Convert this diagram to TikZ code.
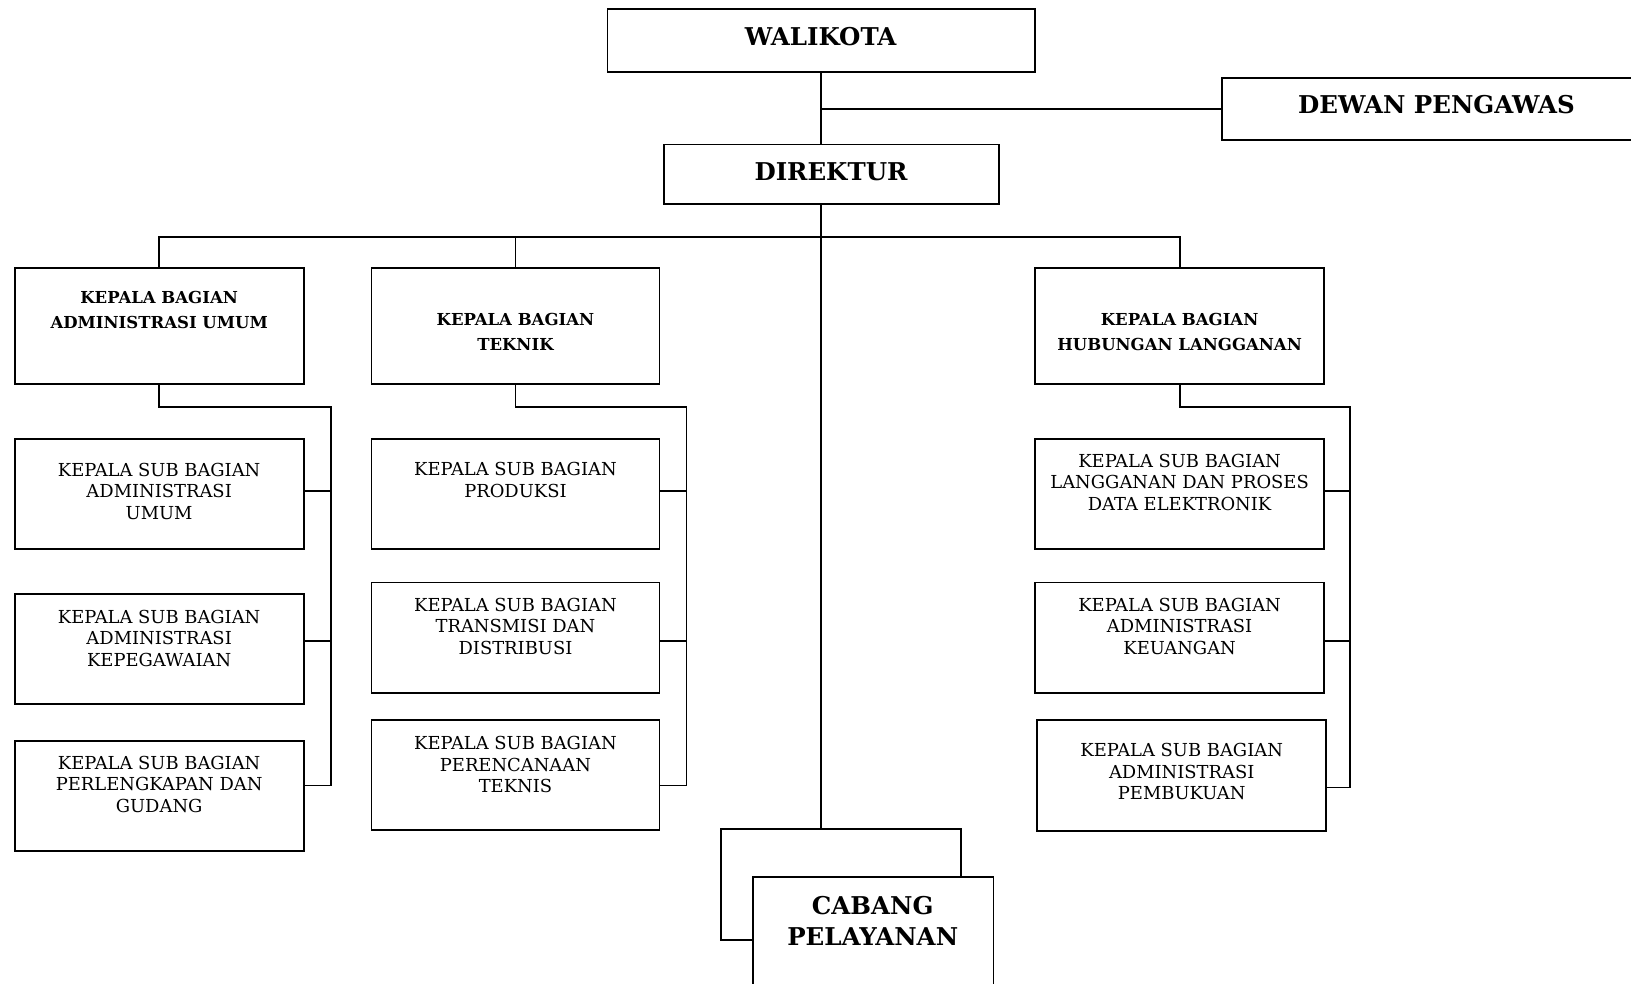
\documentclass[tikz,border=0pt]{standalone}
\usepackage{fontspec}
\setmainfont{DejaVu Serif}
\begin{document}
\begin{tikzpicture}[x=1pt,y=-1pt,
  box/.style={draw,line width=1.8pt,rectangle,inner sep=0pt,fill=white},
  wire/.style={line width=1.8pt},
  bigtxt/.style={font=\fontsize{24.5}{31}\selectfont\bfseries,align=center,inner sep=0pt},
  kbtxt/.style={font=\fontsize{16.5}{25}\selectfont\bfseries,align=center,inner sep=0pt},
  subtxt/.style={font=\fontsize{17.9}{21.5}\selectfont,align=center,inner sep=0pt}]
\useasboundingbox (0,0) rectangle (1631,984);
\begin{scope}
\clip (0,0) rectangle (1631,984);
% top
\node[box,minimum width=427.5pt,minimum height=62.4pt] (wal) at (821.25,40.6) {};
\node[bigtxt] (walt) at (820.7,36.4) {WALIKOTA};
\node[box,minimum width=437.8pt,minimum height=62.4pt] (dew) at (1441.1,109.2) {};
\node[bigtxt] (dewt) at (1436.5,105) {DEWAN PENGAWAS};
\node[box,minimum width=335pt,minimum height=59.3pt] (dir) at (831.1,174.25) {};
\node[bigtxt] (dirt) at (831,171.6) {DIREKTUR};
% kepala bagian
\node[box,minimum width=289.1pt,minimum height=115.4pt] (kba) at (159.15,326.1) {};
\node[kbtxt] (kbat) at (159.15,310) {KEPALA BAGIAN\\ADMINISTRASI UMUM};
\node[box,minimum width=288.1pt,minimum height=115.4pt] (kbt) at (515.45,326.1) {};
\node[kbtxt] (kbtt) at (515.45,331.8) {KEPALA BAGIAN\\TEKNIK};
\node[box,minimum width=289.2pt,minimum height=115.4pt] (kbh) at (1179.6,326.1) {};
\node[kbtxt] (kbht) at (1179.6,331.8) {KEPALA BAGIAN\\HUBUNGAN LANGGANAN};
% sub admin
\node[box,minimum width=289.1pt,minimum height=110.2pt] (sa1) at (159.15,494.1) {};
\node[subtxt] (sa1t) at (159.15,491) {KEPALA SUB BAGIAN\\ADMINISTRASI\\UMUM};
\node[box,minimum width=289.1pt,minimum height=110.2pt] (sa2) at (159.15,649.1) {};
\node[subtxt] (sa2t) at (159.15,638) {KEPALA SUB BAGIAN\\ADMINISTRASI\\KEPEGAWAIAN};
\node[box,minimum width=289.1pt,minimum height=110.2pt] (sa3) at (159.15,795.75) {};
\node[subtxt] (sa3t) at (159.15,784.3) {KEPALA SUB BAGIAN\\PERLENGKAPAN DAN\\GUDANG};
% sub teknik
\node[box,minimum width=288.1pt,minimum height=110.2pt] (st1) at (515.45,494.1) {};
\node[subtxt] (st1t) at (515.45,480) {KEPALA SUB BAGIAN\\PRODUKSI};
\node[box,minimum width=288.1pt,minimum height=110.2pt] (st2) at (515.45,637.65) {};
\node[subtxt] (st2t) at (515.45,626.2) {KEPALA SUB BAGIAN\\TRANSMISI DAN\\DISTRIBUSI};
\node[box,minimum width=288.1pt,minimum height=110.2pt] (st3) at (515.45,774.95) {};
\node[subtxt] (st3t) at (515.45,764.5) {KEPALA SUB BAGIAN\\PERENCANAAN\\TEKNIS};
% sub hubungan
\node[box,minimum width=289.2pt,minimum height=110.2pt] (sh1) at (1179.6,494.1) {};
\node[subtxt] (sh1t) at (1179.6,482.1) {KEPALA SUB BAGIAN\\LANGGANAN DAN PROSES\\DATA ELEKTRONIK};
\node[box,minimum width=289.2pt,minimum height=110.2pt] (sh2) at (1179.6,637.65) {};
\node[subtxt] (sh2t) at (1179.6,626.2) {KEPALA SUB BAGIAN\\ADMINISTRASI\\KEUANGAN};
\node[box,minimum width=289.2pt,minimum height=111.3pt] (sh3) at (1181.7,775.45) {};
\node[subtxt] (sh3t) at (1181.7,771.8) {KEPALA SUB BAGIAN\\ADMINISTRASI\\PEMBUKUAN};
% connectors top
\draw[wire] (wal.south) -- (wal.south |- dir.north);
\draw[wire] (wal.south |- dew.west) -- (dew.west);
\coordinate (bus) at (0,237.2);
\draw[wire] (kba.north) -- (kba.north |- bus) -- (kbh.north |- bus) -- (kbh.north);
\draw[wire] (kbt.north) -- (kbt.north |- bus);
% admin group
\coordinate (ra) at (330.8,406.7);
\coordinate (la1) at (330.8,491);
\coordinate (la2) at (330.8,640.8);
\coordinate (la3) at (330.8,785.4);
\draw[wire] (kba.south) -- (kba.south |- ra) -- (ra) -- (la3) -- (la3 -| sa3.east);
\draw[wire] (la1) -- (la1 -| sa1.east);
\draw[wire] (la2) -- (la2 -| sa2.east);
% teknik group
\coordinate (rt) at (686.5,406.7);
\coordinate (lt1) at (686.5,491);
\coordinate (lt2) at (686.5,640.8);
\coordinate (lt3) at (686.5,785.4);
\draw[wire] (kbt.south) -- (kbt.south |- rt) -- (rt) -- (lt3) -- (lt3 -| st3.east);
\draw[wire] (lt1) -- (lt1 -| st1.east);
\draw[wire] (lt2) -- (lt2 -| st2.east);
% hubungan group
\coordinate (rh) at (1350.2,406.7);
\coordinate (lh1) at (1350.2,491);
\coordinate (lh2) at (1350.2,640.8);
\coordinate (lh3) at (1350.2,787.4);
\draw[wire] (kbh.south) -- (kbh.south |- rh) -- (rh) -- (lh3) -- (lh3 -| sh3.east);
\draw[wire] (lh1) -- (lh1 -| sh1.east);
\draw[wire] (lh2) -- (lh2 -| sh2.east);
% cabang
\node[box,minimum width=240.2pt,minimum height=111.3pt] (cabb) at (841,884.65) {};
\draw[wire] (wal.south |- dir.south) -- (wal.south |- cabb.north);
\node[box,minimum width=240.3pt,minimum height=111.3pt] (cabf) at (873.25,932.55) {};
\node[bigtxt] (cabt) at (872.7,920.6) {CABANG\\PELAYANAN};
\end{scope}
\end{tikzpicture}
\end{document}
